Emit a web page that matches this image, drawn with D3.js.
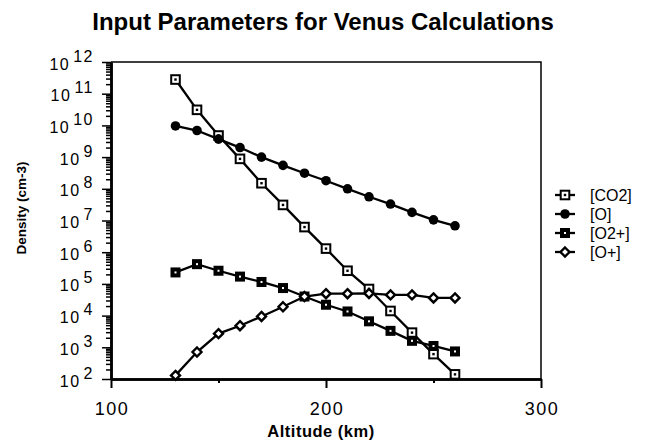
<!DOCTYPE html>
<html>
<head>
<meta charset="utf-8">
<script src="https://cdn.jsdelivr.net/npm/d3@7"></script>
<style>
  body { margin: 0; background: #fff; }
  text { font-family: "Liberation Sans", Arial, Helvetica, sans-serif; fill: #000; }
</style>
</head>
<body>
<div id="chart"></div>
<script>
// altitude (km) and densities (cm-3)
const altitude = [130, 140, 150, 160, 170, 180, 190, 200, 210, 220, 230, 240, 250, 260];
const co2 = [2.8e11, 3.1e10, 4.8e9, 8.8e8, 1.5e8, 3.1e7, 6.2e6, 1.3e6, 2.6e5, 6.9e4, 1.4e4, 2.9e3, 6.1e2, 1.4e2];
const oAtom = [9.6e9, 6.9e9, 3.7e9, 2.0e9, 1.0e9, 5.5e8, 3.1e8, 1.8e8, 1.0e8, 5.6e7, 3.3e7, 1.8e7, 1.05e7, 6.8e6];
const o2plus = [2.3e5, 4.2e5, 2.6e5, 1.7e5, 1.15e5, 7.4e4, 4.0e4, 2.2e4, 1.35e4, 6.6e3, 3.3e3, 1.6e3, 1.1e3, 7.4e2];
const oplus = [1.3e2, 7.1e2, 2.7e3, 4.8e3, 9.4e3, 1.9e4, 4.0e4, 4.9e4, 4.9e4, 5.0e4, 4.5e4, 4.5e4, 3.6e4, 3.6e4];

const seriesNames = ['[CO2]', '[O]', '[O2+]', '[O+]'];
const xTicks = [100, 200, 300];
const xMinorTicks = [150, 250];
const yExponents = [2, 3, 4, 5, 6, 7, 8, 9, 10, 11, 12];

var svgwidth = 645;
var svgheight = 442;

var svg = d3.select('#chart')
    .append('svg')
    .attr('width', svgwidth)
    .attr('height', svgheight);

var pLeft = 111, pRight = 541, pTop = 62, pBottom = 379;

var xscale = d3.scaleLinear().domain([100, 300]).range([pLeft, pRight]);
var yscale = d3.scaleLog().domain([1e2, 1e12]).range([pBottom, pTop]);

// title
svg.append('text')
    .attr('x', 323)
    .attr('y', 30)
    .attr('text-anchor', 'middle')
    .style('font-size', '24px')
    .style('font-weight', 'bold')
    .text('Input Parameters for Venus Calculations');

// frame top/right (thin)
svg.append('path')
    .attr('d', `M${pLeft},${pTop}H${pRight}V${pBottom}`)
    .attr('fill', 'none')
    .attr('stroke', '#000')
    .attr('stroke-width', 1.5);

// y axis: major + minor ticks
var yMajor = yExponents.map(e => Math.pow(10, e));
var yMinor = [];
yExponents.slice(0, -1).forEach(e => {
    for (var k = 2; k <= 9; k++) yMinor.push(k * Math.pow(10, e));
});

var gy = svg.append('g').attr('transform', `translate(${pLeft},0)`);
gy.call(d3.axisLeft(yscale).tickValues(yMajor).tickSize(9).tickFormat('').tickSizeOuter(0));
gy.append('g').call(d3.axisLeft(yscale).tickValues(yMinor).tickSize(5).tickFormat('').tickSizeOuter(0));
gy.selectAll('path.domain').attr('stroke-width', 2.5);
gy.selectAll('line').attr('stroke-width', 1.5);

// y tick labels 10^n
yExponents.forEach(e => {
    var t = svg.append('text')
        .attr('x', 94)
        .attr('y', yscale(Math.pow(10, e)) + 7.5)
        .attr('text-anchor', 'end')
        .style('font-size', '16px')
        .style('letter-spacing', '1.5px');
    t.append('tspan').text('10');
    t.append('tspan').attr('dx', 3).attr('dy', -8).text(e);
});

// x axis
var gx = svg.append('g').attr('transform', `translate(0,${pBottom})`);
gx.call(d3.axisBottom(xscale).tickValues(xTicks).tickSize(9).tickFormat('').tickSizeOuter(0));
gx.append('g').call(d3.axisBottom(xscale).tickValues(xMinorTicks).tickSize(4).tickFormat('').tickSizeOuter(0));
gx.selectAll('path.domain').attr('stroke-width', 2.5);
gx.selectAll('line').attr('stroke-width', 2);

xTicks.forEach(v => {
    svg.append('text')
        .attr('x', xscale(v) + 1)
        .attr('y', 415)
        .attr('text-anchor', 'middle')
        .style('font-size', '18px')
        .style('letter-spacing', '1.5px')
        .text(v);
});

// axis titles
svg.append('text')
    .attr('x', 321)
    .attr('y', 437)
    .attr('text-anchor', 'middle')
    .style('font-size', '16.5px')
    .style('font-weight', 'bold')
    .style('letter-spacing', '0.5px')
    .text('Altitude (km)');

svg.append('text')
    .attr('transform', 'rotate(-90)')
    .attr('x', -208)
    .attr('y', 26)
    .attr('text-anchor', 'middle')
    .style('font-size', '13.5px')
    .style('font-weight', 'bold')
    .text('Density (cm-3)');

// marker drawers
function drawMarker(g, type) {
    if (type === 0) {
        g.append('rect').attr('x', -4.3).attr('y', -4.3).attr('width', 8.6).attr('height', 8.6)
            .attr('fill', '#fff').attr('stroke', '#000').attr('stroke-width', 2);
        g.append('rect').attr('x', -1.2).attr('y', -1.2).attr('width', 2.4).attr('height', 2.4).attr('fill', '#000');
    } else if (type === 1) {
        g.append('circle').attr('r', 4.8).attr('fill', '#000');
    } else if (type === 2) {
        g.append('rect').attr('x', -5).attr('y', -5).attr('width', 10).attr('height', 10).attr('fill', '#000');
        g.append('rect').attr('x', -1).attr('y', -1).attr('width', 2).attr('height', 2).attr('fill', '#fff');
    } else {
        g.append('path').attr('d', 'M0,-4.5L4.5,0L0,4.5L-4.5,0Z')
            .attr('fill', '#fff').attr('stroke', '#000').attr('stroke-width', 2.4);
    }
}

var allSeries = [co2, oAtom, o2plus, oplus];
var line = d3.line()
    .x(d => xscale(d.x))
    .y(d => yscale(d.y));

allSeries.forEach((vals, i) => {
    var pts = altitude.map((a, j) => ({ x: a, y: vals[j] }));
    svg.append('path')
        .datum(pts)
        .attr('d', line)
        .attr('fill', 'none')
        .attr('stroke', '#000')
        .attr('stroke-width', 2.3);
    svg.append('g')
        .selectAll('g')
        .data(pts)
        .join('g')
        .attr('transform', d => `translate(${xscale(d.x)},${yscale(d.y)})`)
        .each(function () { drawMarker(d3.select(this), i); });
});

// legend
var legend = svg.append('g').attr('transform', 'translate(555,195)');
seriesNames.forEach((name, i) => {
    var row = legend.append('g').attr('transform', `translate(0,${i * 19})`);
    row.append('line').attr('x1', 0).attr('x2', 20).attr('stroke', '#000').attr('stroke-width', 2.3);
    drawMarker(row.append('g').attr('transform', 'translate(10,0)'), i);
    row.append('text').attr('x', 35).attr('y', 6).style('font-size', '16px').text(name);
});
</script>
</body>
</html>
